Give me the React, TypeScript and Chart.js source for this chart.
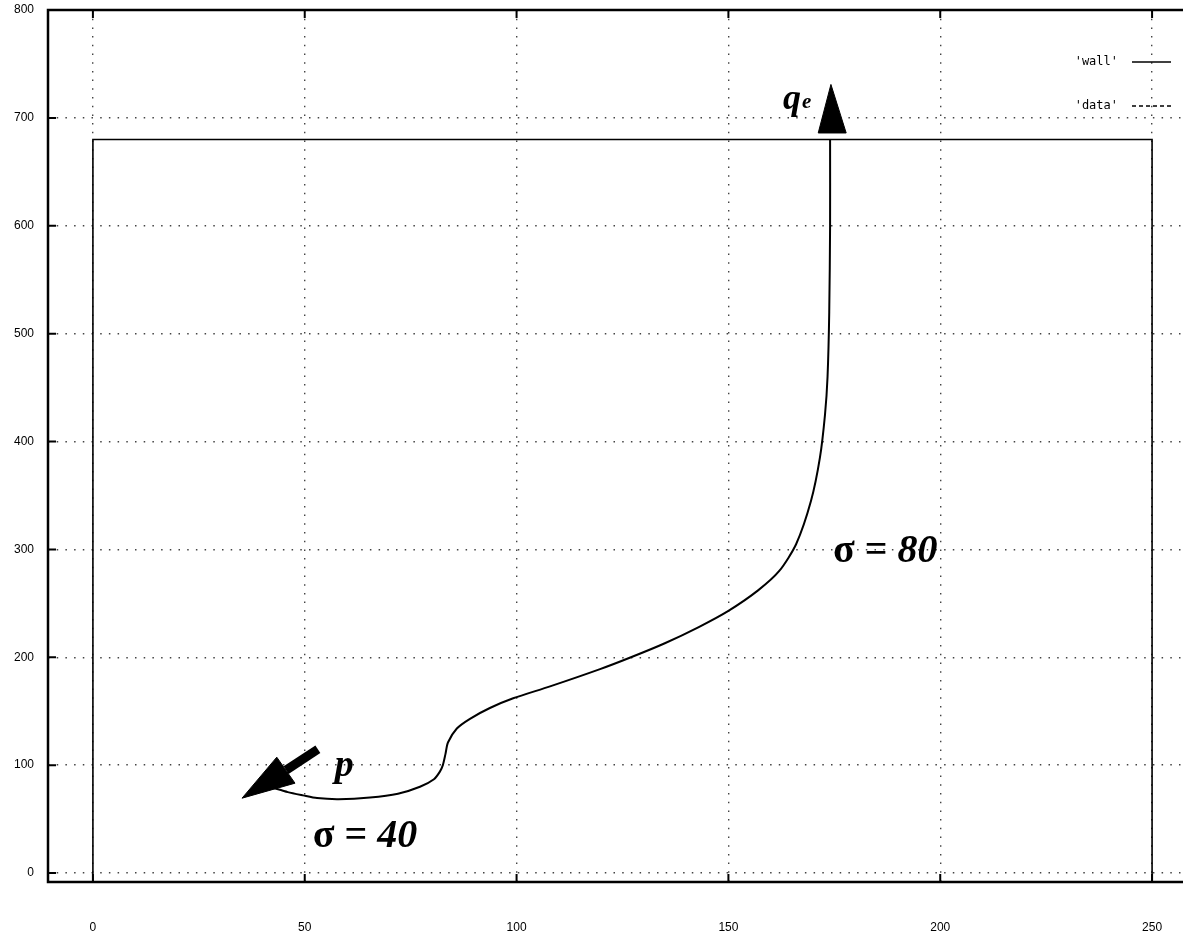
import { useEffect, useRef } from "react";
import { Chart, registerables } from "chart.js";

Chart.register(...registerables);

// ---- axes ----
const xTicks = [0, 50, 100, 150, 200, 250];
const yTicks = [0, 100, 200, 300, 400, 500, 600, 700, 800];
const xRange = [-10.6, 257.3];
const yRange = [-8.3, 800];

// ---- series ----
const seriesLabels = ["'wall'", "'data'"];
const wallX = [0, 0, 250, 250];
const wallY = [-8.3, 680, 680, -8.3];

const dataX = [
  42.5, 46, 49.6, 52.9, 58, 65.4, 72, 77.2, 80.5, 81.9, 82.6, 83.2, 83.8, 85.9,
  89, 93.7, 99.2, 107.9, 119.7, 127, 135, 143, 150, 157, 162, 166, 169.5, 171.6,
  172.8, 173.4, 173.8, 174, 174,
];
const dataY = [
  79, 75, 72, 69.5, 68.5, 70, 73.5, 80, 87, 94, 100, 110, 121, 134, 143, 153,
  162, 173, 189, 200, 213, 228, 243, 262, 280, 305, 345, 385, 425, 460, 520,
  600, 680,
];

// ---- annotation arrows (data units) ----
const qArrowX = [171.2, 174.2, 177.8, 171.2];
const qArrowY = [686, 731, 686, 686];
const pHeadX = [35.2, 43.4, 47.7, 35.2];
const pHeadY = [69.4, 107.4, 83.3, 69.4];
const pShaftX = [53.1, 45.6];
const pShaftY = [114.8, 95.4];

// ---- annotation texts (data units) ----
const sigmaLabels = ["80", "40"];
const sigmaX = [174.7, 51.9];
const sigmaY = [288, 24];
const pLabel = { text: "p", x: 57.1, y: 89.8 };
const qLabel = { text: "q", sub: "e", x: 162.9, y: 708.3 };

const pts = (xs: number[], ys: number[]) => xs.map((x, i) => ({ x, y: ys[i] }));

const decorPlugin = {
  id: "decor",
  afterDatasetsDraw(chart: any) {
    const { ctx, chartArea, scales } = chart;
    const { left, right, top, bottom } = chartArea;
    const xs = scales.x;
    const ys = scales.y;
    ctx.save();
    ctx.setLineDash([]);
    ctx.strokeStyle = "#000";
    ctx.fillStyle = "#000";

    // frame (left, top, bottom)
    ctx.lineWidth = 2.5;
    ctx.beginPath();
    ctx.moveTo(right, top);
    ctx.lineTo(left, top);
    ctx.lineTo(left, bottom);
    ctx.lineTo(right, bottom);
    ctx.stroke();

    // inward tick marks
    ctx.lineWidth = 2;
    ctx.beginPath();
    xTicks.forEach((v) => {
      const px = xs.getPixelForValue(v);
      ctx.moveTo(px, bottom);
      ctx.lineTo(px, bottom - 8);
      ctx.moveTo(px, top);
      ctx.lineTo(px, top + 8);
    });
    yTicks.forEach((v) => {
      const py = ys.getPixelForValue(v);
      ctx.moveTo(left, py);
      ctx.lineTo(left + 8, py);
    });
    ctx.stroke();

    // sigma labels
    ctx.textBaseline = "alphabetic";
    ctx.textAlign = "left";
    sigmaLabels.forEach((lab, i) => {
      let px = xs.getPixelForValue(sigmaX[i]);
      const py = ys.getPixelForValue(sigmaY[i]);
      ctx.font = 'bold 40px "Liberation Serif"';
      ctx.fillText("σ", px, py);
      px += ctx.measureText("σ").width;
      ctx.font = 'bold 40px "Liberation Serif"';
      ctx.fillText(" = ", px, py);
      px += ctx.measureText(" = ").width;
      ctx.font = 'italic bold 40px "Liberation Serif"';
      ctx.fillText(lab, px, py);
    });

    // p label
    ctx.font = 'italic bold 38px "Liberation Serif"';
    ctx.fillText(pLabel.text, xs.getPixelForValue(pLabel.x), ys.getPixelForValue(pLabel.y));

    // q_e label
    {
      const px = xs.getPixelForValue(qLabel.x);
      const py = ys.getPixelForValue(qLabel.y);
      ctx.font = 'italic bold 36px "Liberation Serif"';
      ctx.fillText(qLabel.text, px, py);
      const w = ctx.measureText(qLabel.text).width;
      ctx.font = 'italic bold 21px "Liberation Serif"';
      ctx.fillText(qLabel.sub, px + w + 1, py - 1);
    }

    // legend (top right)
    ctx.font = '12px "DejaVu Sans Mono"';
    ctx.textAlign = "right";
    ctx.textBaseline = "middle";
    const legendY = [top + 52, top + 96];
    seriesLabels.forEach((lab, i) => {
      const ly = legendY[i];
      ctx.fillText(lab, 1118, ly);
      ctx.lineWidth = 1.5;
      ctx.setLineDash(i === 1 ? [4, 3] : []);
      ctx.beginPath();
      ctx.moveTo(1132, ly);
      ctx.lineTo(1171, ly);
      ctx.stroke();
    });
    ctx.restore();
  },
};

const zeroPad = (s: any) => {
  s.paddingLeft = 0;
  s.paddingRight = 0;
  s.paddingTop = 0;
  s.paddingBottom = 0;
};

export default function App() {
  const ref = useRef<HTMLCanvasElement | null>(null);

  useEffect(() => {
    if (!ref.current) return;
    const tickFont = { family: "Liberation Sans", size: 12 };
    const chart = new Chart(ref.current, {
      type: "scatter",
      data: {
        datasets: [
          {
            label: seriesLabels[0],
            data: pts(wallX, wallY),
            showLine: true,
            borderColor: "#000",
            borderWidth: 1.6,
            pointRadius: 0,
            fill: false,
          },
          {
            label: seriesLabels[1],
            data: pts(dataX, dataY),
            showLine: true,
            borderColor: "#000",
            borderWidth: 2,
            pointRadius: 0,
            tension: 0.25,
            fill: false,
          },
          {
            label: "qArrow",
            data: pts(qArrowX, qArrowY),
            showLine: true,
            borderColor: "#000",
            backgroundColor: "#000",
            borderWidth: 1,
            pointRadius: 0,
            fill: "shape",
          },
          {
            label: "pHead",
            data: pts(pHeadX, pHeadY),
            showLine: true,
            borderColor: "#000",
            backgroundColor: "#000",
            borderWidth: 1,
            pointRadius: 0,
            fill: "shape",
          },
          {
            label: "pShaft",
            data: pts(pShaftX, pShaftY),
            showLine: true,
            borderColor: "#000",
            borderWidth: 9,
            borderCapStyle: "butt",
            pointRadius: 0,
            fill: false,
          },
        ],
      },
      options: {
        responsive: false,
        animation: false,
        devicePixelRatio: 1,
        layout: { padding: { top: 10, left: 0, right: 0, bottom: 0 } },
        plugins: { legend: { display: false }, tooltip: { enabled: false } },
        scales: {
          x: {
            type: "linear",
            min: xRange[0],
            max: xRange[1],
            afterBuildTicks: (s: any) => {
              s.ticks = xTicks.map((v) => ({ value: v }));
            },
            afterFit: (s: any) => {
              s.height = 54;
              zeroPad(s);
            },
            grid: { color: "#444", lineWidth: 1.4, drawTicks: false },
            border: { display: false, dash: [1.5, 7.2] },
            ticks: {
              padding: 38,
              font: tickFont,
              color: "#000",
              maxRotation: 0,
              autoSkip: false,
            },
          },
          y: {
            type: "linear",
            min: yRange[0],
            max: yRange[1],
            afterBuildTicks: (s: any) => {
              s.ticks = yTicks.map((v) => ({ value: v }));
            },
            afterFit: (s: any) => {
              s.width = 48;
              zeroPad(s);
            },
            grid: { color: "#444", lineWidth: 1.4, drawTicks: false },
            border: { display: false, dash: [1.5, 7.2] },
            ticks: {
              padding: 14,
              font: tickFont,
              color: "#000",
              autoSkip: false,
            },
          },
        },
      } as any,
      plugins: [decorPlugin],
    });
    return () => chart.destroy();
  }, []);

  return (
    <div style={{ position: "absolute", left: 0, top: 0, width: 1183, height: 936, background: "#fff" }}>
      <canvas ref={ref} width={1183} height={936} style={{ display: "block" }} />
    </div>
  );
}
